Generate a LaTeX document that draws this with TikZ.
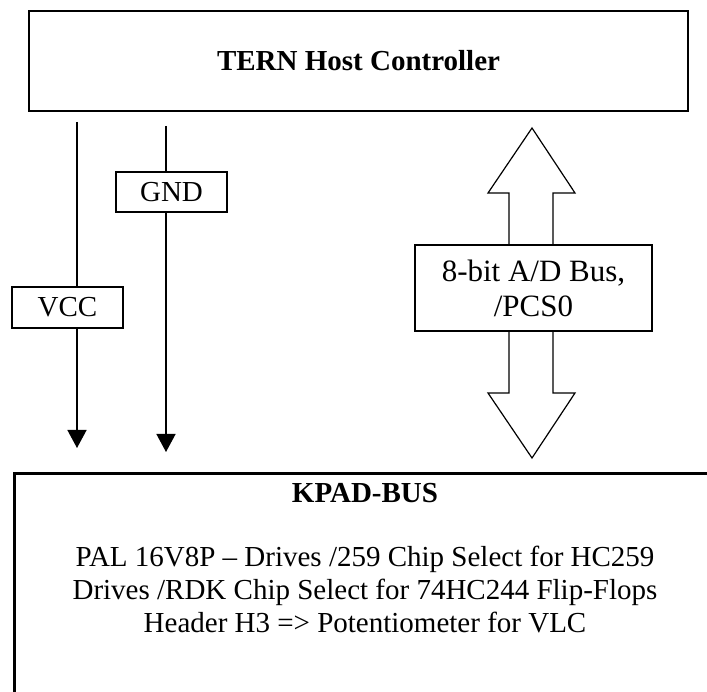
\documentclass[tikz,border=0pt]{standalone}
\usepackage{fontspec}
\setmainfont{Liberation Serif}
\usetikzlibrary{arrows.meta}
\begin{document}
\begin{tikzpicture}[x=1pt,y=-1pt,
  every node/.style={font=\fontsize{29}{33}\selectfont},
  bigbox/.style={draw, line width=2pt, inner sep=0pt},
  lblbox/.style={draw, line width=1.5pt, fill=white, inner sep=0pt, align=center},
  wire/.style={line width=1.5pt},
  wirehead/.style={line width=1.5pt, -{Triangle[width=19pt,length=18pt]}},
  hollow/.style={line width=1.2pt, line join=miter}]
\clip (0,0) rectangle (707,692);
\fill[white] (0,0) rectangle (707,692);
% host controller
\node[bigbox, minimum width=659pt, minimum height=100pt] (host) at (358.5,61)
  {\bfseries TERN Host Controller};
% bottom box (runs past the right and bottom edges)
\node[draw, line width=3pt, inner sep=0pt, anchor=north west,
  minimum width=720pt, minimum height=260pt] (kpad) at (13,472) {};
\node (kpadtitle) at (365,493) {\bfseries KPAD-BUS};
\node[align=center] (kpadtext) at (365,590)
  {PAL 16V8P – Drives /259 Chip Select for HC259\\
   Drives /RDK Chip Select for 74HC244 Flip-Flops\\
   Header H3 => Potentiometer for VLC};
% labels
\node[lblbox, minimum width=111pt, minimum height=41pt] (vcc) at (67.5,307.5) {VCC};
\node[lblbox, minimum width=111pt, minimum height=40pt] (gnd) at (171.5,192) {GND};
\node[lblbox, minimum width=237pt, minimum height=86pt,
  font=\fontsize{31}{35}\selectfont] (bus) at (533.5,288) {8-bit A/D Bus,\\/PCS0};
% power wires
\coordinate (vcctop) at (77,122);
\coordinate (vcctip) at (77,448);
\coordinate (gndtop) at (166,126);
\coordinate (gndtip) at (166,452);
\draw[wire] (vcctop) -- (vcctop |- vcc.north);
\draw[wirehead] (vcctop |- vcc.south) -- (vcctip);
\draw[wire] (gndtop) -- (gndtop |- gnd.north);
\draw[wirehead] (gndtop |- gnd.south) -- (gndtip);
% hollow bus arrow
\draw[hollow] (509,245) -- (509,193) -- (488,193) -- (532,128) -- (575,193)
  -- (553,193) -- (553,245);
\draw[hollow] (509,331) -- (509,393) -- (488,393) -- (532,458) -- (575,393)
  -- (553,393) -- (553,331);
\end{tikzpicture}
\end{document}
